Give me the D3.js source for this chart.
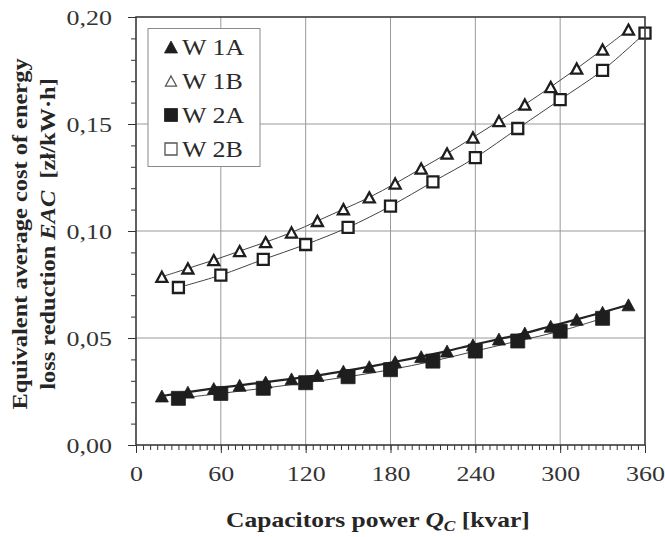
<!DOCTYPE html>
<html>
<head>
<meta charset="utf-8">
<script src="https://cdn.jsdelivr.net/npm/d3@7"></script>
<style>
  html, body { margin: 0; padding: 0; background: #fff; }
  svg { display: block; font-family: "Liberation Serif", "DejaVu Serif", serif; }
</style>
</head>
<body>
<div id="chart"></div>
<script>
// Capacitor power steps [kvar]
const qTriangles = [18.3, 36.7, 55, 73.3, 91.7, 110, 128.3, 146.7, 165, 183.3,
                    201.7, 220, 238.3, 256.7, 275, 293.3, 311.7, 330, 348.3];
const qSquares = [30, 60, 90, 120, 150, 180, 210, 240, 270, 300, 330, 360];

// Equivalent average cost of energy loss reduction [zł/kW·h]
const w1A = [0.0229, 0.0247, 0.0264, 0.0279, 0.0294, 0.0309, 0.0325, 0.0345, 0.0366, 0.0389,
             0.0413, 0.0439, 0.0468, 0.0495, 0.0523, 0.0555, 0.0587, 0.0620, 0.0655];
const w1B = [0.0786, 0.0825, 0.0864, 0.0906, 0.0948, 0.0993, 0.1047, 0.1102, 0.1157, 0.1222,
             0.1292, 0.1362, 0.1437, 0.1514, 0.1591, 0.1673, 0.1759, 0.1848, 0.1941];
const w2A = [0.0218, 0.0241, 0.0265, 0.0291, 0.0319, 0.0352, 0.0392, 0.0439, 0.0486, 0.0532, 0.0592];
const w2B = [0.0736, 0.0794, 0.0867, 0.0937, 0.1017, 0.1116, 0.1230, 0.1343, 0.1479, 0.1614, 0.1751, 0.1925];

const seriesNames = ["W 1A", "W 1B", "W 2A", "W 2B"];
const xTicks = [0, 60, 120, 180, 240, 300, 360];
const yTicks = [0, 0.05, 0.10, 0.15, 0.20];

const W = 665, H = 537;
const margin = { top: 17, right: 20, bottom: 92, left: 136 };
const ink = "#262626";

const series = [
  { name: seriesNames[0], xs: qTriangles, ys: w1A, shape: "tri", filled: true, lw: 2.2 },
  { name: seriesNames[1], xs: qTriangles, ys: w1B, shape: "tri", filled: false, lw: 1 },
  { name: seriesNames[2], xs: qSquares.slice(0, w2A.length), ys: w2A, shape: "sq", filled: true, lw: 1 },
  { name: seriesNames[3], xs: qSquares, ys: w2B, shape: "sq", filled: false, lw: 1 }
];

const svg = d3.select("#chart").append("svg").attr("width", W).attr("height", H);

const x = d3.scaleLinear().domain([0, 360]).range([margin.left, W - margin.right]);
const y = d3.scaleLinear().domain([0, 0.2]).range([H - margin.bottom, margin.top]);

const commaFmt = d => d3.format(".2f")(d).replace(".", ",");

// widen glyphs along the text direction, keeping the anchor point fixed
function stretch(sel, k) {
  sel.each(function () {
    const t = d3.select(this);
    const x0 = +t.attr("x") || 0;
    t.attr("transform", `translate(${x0},0) scale(${k},1) translate(${-x0},0)`);
  });
}

// clip region for the plot area
svg.append("defs").append("clipPath").attr("id", "plot-clip")
  .append("rect")
  .attr("x", x(0)).attr("y", y(0.2))
  .attr("width", x(360) - x(0)).attr("height", y(0) - y(0.2));

// gridlines
const grid = svg.append("g").attr("stroke", "#9a9a9a").attr("stroke-width", 1);
grid.selectAll("line.v").data(xTicks.slice(1, -1)).join("line")
  .attr("x1", d => x(d)).attr("x2", d => x(d))
  .attr("y1", y(0)).attr("y2", y(0.2));
grid.selectAll("line.h").data(yTicks.slice(1, -1)).join("line")
  .attr("x1", x(0)).attr("x2", x(360))
  .attr("y1", d => y(d)).attr("y2", d => y(d));

// minor ticks
const minorX = d3.range(0, 361, 5);
const minorY = d3.range(0, 0.2001, 0.01);
const gxMinor = svg.append("g").attr("transform", `translate(0,${y(0)})`)
  .call(d3.axisBottom(x).tickValues(minorX).tickSize(5).tickFormat(""));
const gyMinor = svg.append("g").attr("transform", `translate(${x(0)},0)`)
  .call(d3.axisLeft(y).tickValues(minorY).tickSize(5).tickFormat(""));

// major axes
const gx = svg.append("g").attr("transform", `translate(0,${y(0)})`)
  .call(d3.axisBottom(x).tickValues(xTicks).tickSize(8).tickPadding(12).tickFormat(d3.format("d")));
const gy = svg.append("g").attr("transform", `translate(${x(0)},0)`)
  .call(d3.axisLeft(y).tickValues(yTicks).tickSize(8).tickPadding(16).tickFormat(commaFmt));

[gxMinor, gyMinor, gx, gy].forEach(g => {
  g.select(".domain").remove();
  g.selectAll(".tick line").attr("stroke", "#333").attr("stroke-width", 1);
  g.selectAll(".tick text")
    .attr("font-family", "Liberation Serif, serif")
    .attr("font-size", 22)
    .attr("fill", "#333");
});
stretch(gx.selectAll(".tick text"), 1.18);
stretch(gy.selectAll(".tick text"), 1.18);

// series lines and markers
const plot = svg.append("g").attr("clip-path", "url(#plot-clip)");
const line = d3.line().curve(d3.curveCatmullRom.alpha(0.5))
  .x(d => x(d[0])).y(d => y(d[1]));

function triPath(s) {
  const h = s * 0.92;
  return `M0,${-h / 2}L${s / 2},${h / 2}L${-s / 2},${h / 2}Z`;
}
function sqPath(s) {
  return `M${-s / 2},${-s / 2}H${s / 2}V${s / 2}H${-s / 2}Z`;
}

series.forEach(s => {
  const pts = s.xs.map((q, i) => [q, s.ys[i]]);
  plot.append("path").datum(pts)
    .attr("d", line)
    .attr("fill", "none")
    .attr("stroke", s.filled && s.shape === "tri" ? "#222" : "#444")
    .attr("stroke-width", s.lw);
});

series.forEach(s => {
  const pts = s.xs.map((q, i) => [q, s.ys[i]]);
  const size = s.filled ? (s.shape === "sq" ? 14 : 13) : 11;
  svg.append("g").selectAll("path").data(pts).join("path")
    .attr("transform", d => `translate(${x(d[0])},${y(d[1])})`)
    .attr("d", s.shape === "tri" ? triPath(size) : sqPath(size))
    .attr("fill", s.filled ? "#1e1e1e" : "#fff")
    .attr("stroke", "#1e1e1e")
    .attr("stroke-width", s.filled ? 0.8 : 2.3);
});

// plot frame
svg.append("rect")
  .attr("x", x(0)).attr("y", y(0.2))
  .attr("width", x(360) - x(0)).attr("height", y(0) - y(0.2))
  .attr("fill", "none").attr("stroke", "#3a3a3a").attr("stroke-width", 1.6);

// legend
const legend = svg.append("g");
legend.append("rect")
  .attr("x", 148).attr("y", 28.5).attr("width", 112).attr("height", 138)
  .attr("fill", "#fff").attr("stroke", "#8a8a8a").attr("stroke-width", 1);
const rowY = [47, 81, 115, 149];
series.forEach((s, i) => {
  const g = legend.append("g").attr("transform", `translate(171,${rowY[i]})`);
  g.append("path")
    .attr("d", s.shape === "tri" ? triPath(s.filled ? 13 : 11) : sqPath(s.filled ? 13 : 12))
    .attr("fill", s.filled ? "#1e1e1e" : "#fff")
    .attr("stroke", s.filled ? "#1e1e1e" : "#555")
    .attr("stroke-width", s.filled ? 0.8 : 1.3);
  const t = g.append("text")
    .attr("x", 11).attr("y", 0).attr("dy", "0.35em")
    .attr("font-size", 23).attr("fill", "#2a2a2a")
    .text(s.name);
  stretch(t, 1.13);
});

// x axis title
const xt = svg.append("text")
  .attr("x", 378).attr("y", 527)
  .attr("text-anchor", "middle")
  .attr("font-size", 22).attr("font-weight", "bold").attr("fill", ink);
xt.append("tspan").text("Capacitors power ");
xt.append("tspan").attr("font-style", "italic").text("Q");
xt.append("tspan").attr("font-style", "italic").attr("font-size", 15).attr("dy", 4).text("C");
xt.append("tspan").attr("dy", -4).text(" [kvar]");
stretch(xt, 1.16);

// y axis title (two lines)
const yt = svg.append("g").attr("transform", "translate(0,234) rotate(-90)");
const yt1 = yt.append("text")
  .attr("x", 0).attr("y", 27)
  .attr("text-anchor", "middle")
  .attr("font-size", 22).attr("font-weight", "bold").attr("fill", ink)
  .text("Equivalent average cost of energy");
const yt2 = yt.append("text")
  .attr("x", 0).attr("y", 55)
  .attr("text-anchor", "middle")
  .attr("font-size", 22).attr("font-weight", "bold").attr("fill", ink)
  .attr("xml:space", "preserve");
yt2.append("tspan").text("loss reduction ");
yt2.append("tspan").attr("font-style", "italic").text("EAC");
yt2.append("tspan").text("  [zł/kW·h]");
stretch(yt1, 1.11);
stretch(yt2, 1.11);
</script>
</body>
</html>
